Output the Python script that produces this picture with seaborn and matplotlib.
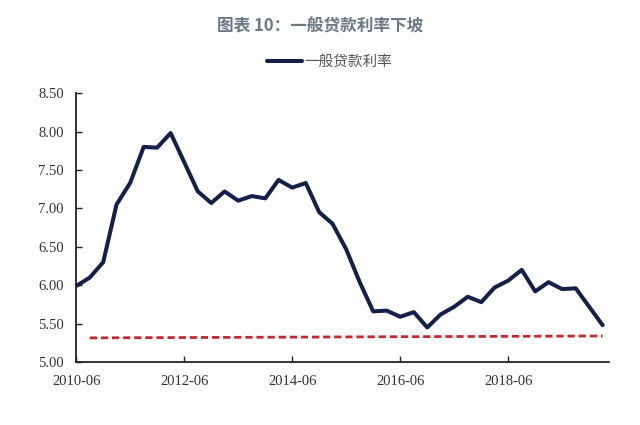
import seaborn as sns
import pandas as pd
import matplotlib.pyplot as plt

# quarterly values
quarters = ['2010-06', '2010-09', '2010-12', '2011-03', '2011-06', '2011-09', '2011-12',
            '2012-03', '2012-06', '2012-09', '2012-12', '2013-03', '2013-06', '2013-09',
            '2013-12', '2014-03', '2014-06', '2014-09', '2014-12', '2015-03', '2015-06',
            '2015-09', '2015-12', '2016-03', '2016-06', '2016-09', '2016-12', '2017-03',
            '2017-06', '2017-09', '2017-12', '2018-03', '2018-06', '2018-09', '2018-12',
            '2019-03', '2019-06', '2019-09', '2019-12', '2020-03']
loan_rate = [5.99, 6.10, 6.30, 7.05, 7.33, 7.80, 7.79, 7.98, 7.60, 7.22,
             7.07, 7.22, 7.10, 7.16, 7.13, 7.37, 7.27, 7.33, 6.95, 6.80,
             6.47, 6.04, 5.66, 5.67, 5.59, 5.65, 5.45, 5.62, 5.72, 5.85,
             5.78, 5.97, 6.06, 6.20, 5.92, 6.04, 5.95, 5.96, 5.72, 5.48]

# red dashed reference line
ref_dates = ['2010-09', '2020-03']
ref_values = [5.315, 5.34]

tick_labels = ['2010-06', '2012-06', '2014-06', '2016-06', '2018-06']

sns.set_theme(style='white')
plt.rcParams['font.family'] = ['Noto Sans CJK SC', 'DejaVu Sans']

df = pd.DataFrame({'date': pd.to_datetime(quarters), 'rate': loan_rate})
ref = pd.DataFrame({'date': pd.to_datetime(ref_dates), 'rate': ref_values})

fig = plt.figure(figsize=(6.4, 4.25), dpi=100)
ax = fig.add_axes([0.119, 0.148, 0.833, 0.633])

sns.lineplot(data=df, x='date', y='rate', ax=ax, color='#13204a', linewidth=2.9,
             label='一般贷款利率', solid_joinstyle='round', solid_capstyle='round')
sns.lineplot(data=ref, x='date', y='rate', ax=ax, color='#c3282e', linewidth=2.0,
             dashes=False, linestyle=(0, (2.6, 1.4)), legend=False)

ax.set_ylim(5.0, 8.5)
ax.set_yticks([5.0, 5.5, 6.0, 6.5, 7.0, 7.5, 8.0, 8.5])
ax.yaxis.set_major_formatter(plt.FormatStrFormatter('%.2f'))
ax.set_xlim(pd.Timestamp('2010-06-01'), pd.Timestamp('2020-04-15'))
ax.set_xticks(pd.to_datetime(tick_labels))
ax.set_xticklabels(tick_labels)
ax.set_xlabel('')
ax.set_ylabel('')

for lab in ax.get_xticklabels() + ax.get_yticklabels():
    lab.set_family('Liberation Serif')
    lab.set_fontsize(10.5)
    lab.set_color('#333333')

ax.tick_params(axis='both', direction='in', length=4, width=1, color='#222222', pad=9)
ax.tick_params(axis='x', bottom=True)
ax.tick_params(axis='y', left=True)
sns.despine(ax=ax)
for side in ['left', 'bottom']:
    ax.spines[side].set_color('#222222')
    ax.spines[side].set_linewidth(1.3)

leg = ax.legend(loc='center', bbox_to_anchor=(0.475, 1.115), frameon=False,
                handlelength=2.4, handletextpad=0.2, fontsize=10.5)
for t in leg.get_texts():
    t.set_color('#555555')

fig.text(0.5, 0.938, '图表 10：一般贷款利率下坡', ha='center', va='center',
         fontsize=12, fontweight='bold', color='#6b7886')

fig.savefig('out.png', dpi=100)
